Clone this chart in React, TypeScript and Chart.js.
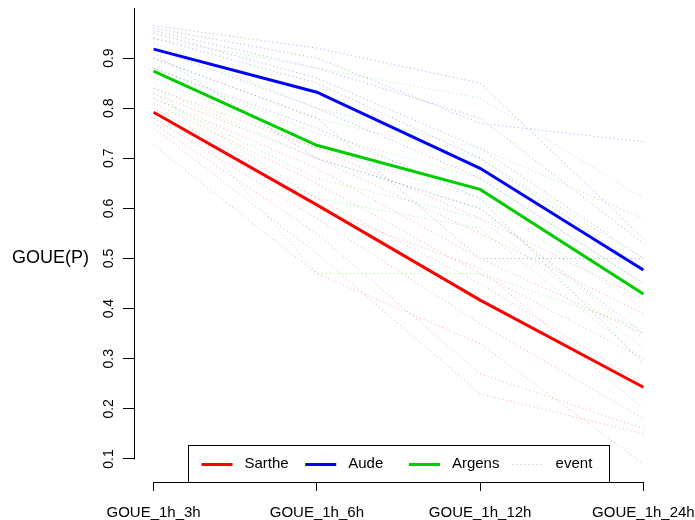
import React, { useEffect, useRef } from "react";
import { Chart, registerables } from "chart.js";

Chart.register(...registerables);

// ---------- data ----------
const categories = ["GOUE_1h_3h", "GOUE_1h_6h", "GOUE_1h_12h", "GOUE_1h_24h"];
const yTicks = [0.1, 0.2, 0.3, 0.4, 0.5, 0.6, 0.7, 0.8, 0.9];
const yLabel = "GOUE(P)";

const sarthe = [0.792, 0.607, 0.417, 0.243];
const aude = [0.918, 0.832, 0.68, 0.477];
const argens = [0.874, 0.726, 0.638, 0.429];

const audeEvents = [
  [0.965, 0.92, 0.85, 0.54],
  [0.96, 0.9, 0.77, 0.733],
  [0.955, 0.88, 0.78, 0.53],
  [0.95, 0.86, 0.72, 0.5],
  [0.94, 0.85, 0.7, 0.48],
  [0.92, 0.8, 0.66, 0.45],
  [0.9, 0.78, 0.5, 0.5],
  [0.88, 0.76, 0.62, 0.29],
  [0.91, 0.7, 0.6, 0.35],
];
const argensEvents = [
  [0.94, 0.88, 0.82, 0.62],
  [0.93, 0.8, 0.72, 0.58],
  [0.9, 0.78, 0.7, 0.5],
  [0.88, 0.75, 0.66, 0.45],
  [0.86, 0.72, 0.62, 0.4],
  [0.84, 0.7, 0.6, 0.34],
  [0.82, 0.66, 0.58, 0.32],
  [0.85, 0.47, 0.47, 0.36],
  [0.83, 0.62, 0.56, 0.3],
];
const sartheEvents = [
  [0.84, 0.72, 0.58, 0.42],
  [0.83, 0.7, 0.55, 0.39],
  [0.82, 0.68, 0.5, 0.35],
  [0.81, 0.65, 0.47, 0.3],
  [0.8, 0.62, 0.45, 0.25],
  [0.78, 0.58, 0.37, 0.18],
  [0.77, 0.55, 0.27, 0.16],
  [0.76, 0.51, 0.23, 0.15],
  [0.726, 0.47, 0.33, 0.09],
  [0.79, 0.6, 0.48, 0.2],
];

const legendLabels = ["Sarthe", "Aude", "Argens", "event"];

// ---------- styles ----------
const FONT = '"Liberation Sans", Arial, Helvetica, sans-serif';
const RED = "#FF0000";
const BLUE = "#0000FF";
const GREEN = "#00CD00";
const legendColors = [RED, BLUE, GREEN, "#c0c0c0"];

const toPts = (vals: number[]) => vals.map((v, i) => ({ x: i, y: v }));

const rStylePlugin = {
  id: "rStyle",
  afterDraw(chart: any) {
    const { ctx, chartArea, scales } = chart;
    const x = scales.x;
    const y = scales.y;
    ctx.save();
    ctx.strokeStyle = "#000";
    ctx.lineWidth = 1;
    ctx.setLineDash([]);
    // y axis line
    const ax = Math.round(chartArea.left) + 0.5;
    ctx.beginPath();
    ctx.moveTo(ax, chartArea.top);
    ctx.lineTo(ax, Math.round(y.getPixelForValue(yTicks[0])) + 0.5);
    ctx.stroke();
    // x axis line
    const ay = Math.round(chartArea.bottom) + 0.5;
    ctx.beginPath();
    ctx.moveTo(Math.round(x.getPixelForValue(0)), ay);
    ctx.lineTo(Math.round(x.getPixelForValue(categories.length - 1)) + 1, ay);
    ctx.stroke();

    // y axis title (horizontal, R style)
    ctx.fillStyle = "#000";
    ctx.font = "18px " + FONT;
    ctx.textAlign = "left";
    ctx.textBaseline = "middle";
    ctx.fillText(yLabel, 12, y.getPixelForValue(0.5));

    // legend
    const boxW = 421;
    const boxH = 37;
    const cx = (chartArea.left + chartArea.right) / 2;
    const bx = Math.round(cx - boxW / 2) + 0.5;
    const by = Math.round(chartArea.bottom - boxH) + 0.5;
    ctx.fillStyle = "#fff";
    ctx.fillRect(bx, by, boxW, boxH);
    ctx.strokeStyle = "#000";
    ctx.strokeRect(bx, by, boxW, boxH);
    const midY = by + boxH / 2;
    ctx.font = "15px " + FONT;
    ctx.textBaseline = "middle";
    legendLabels.forEach((lab, i) => {
      const sx = bx + 13 + i * 103.7;
      ctx.strokeStyle = legendColors[i];
      if (i < 3) {
        ctx.lineWidth = 3;
        ctx.setLineDash([]);
      } else {
        ctx.lineWidth = 1;
        ctx.setLineDash([1, 3]);
      }
      ctx.beginPath();
      ctx.moveTo(sx, Math.round(midY) + 0.5);
      ctx.lineTo(sx + 31, Math.round(midY) + 0.5);
      ctx.stroke();
      ctx.fillStyle = "#000";
      ctx.textAlign = "left";
      ctx.fillText(lab, sx + 43, midY);
    });
    ctx.restore();
  },
};

export default function App() {
  const canvasRef = useRef<HTMLCanvasElement | null>(null);

  useEffect(() => {
    document.body.style.margin = "0";
    const canvas = canvasRef.current;
    if (!canvas) return;

    const evDs = (rows: number[][], color: string) =>
      rows.map((r) => ({
        label: "event",
        data: toPts(r),
        borderColor: color,
        borderWidth: 1,
        borderDash: [1, 3],
        pointRadius: 0,
        fill: false,
        tension: 0,
        order: 2,
      }));

    const bold = (label: string, vals: number[], color: string) => ({
      label,
      data: toPts(vals),
      borderColor: color,
      borderWidth: 3,
      pointRadius: 0,
      fill: false,
      tension: 0,
      order: 0,
    });

    const chart = new Chart(canvas, {
      type: "line",
      data: {
        datasets: [
          bold("Sarthe", sarthe, RED),
          bold("Aude", aude, BLUE),
          bold("Argens", argens, GREEN),
          ...evDs(audeEvents, "rgba(0,0,255,0.35)"),
          ...evDs(argensEvents, "rgba(0,205,0,0.35)"),
          ...evDs(sartheEvents, "rgba(255,0,0,0.35)"),
        ] as any,
      },
      options: {
        responsive: false,
        animation: false,
        layout: { padding: { top: 8, right: 32, left: 0, bottom: 0 } },
        plugins: {
          legend: { display: false },
          tooltip: { enabled: false },
        },
        scales: {
          x: {
            type: "linear",
            min: -0.12,
            max: 3.12,
            afterBuildTicks: (s: any) => {
              s.ticks = categories.map((_, i) => ({ value: i }));
            },
            afterFit: (s: any) => {
              s.height = 38;
              s.paddingLeft = 0;
              s.paddingRight = 0;
            },
            ticks: {
              callback: (v: any) => categories[v] ?? "",
              font: { family: FONT, size: 15 },
              color: "#000",
              padding: 13,
              maxRotation: 0,
              minRotation: 0,
              autoSkip: false,
            },
            grid: {
              display: true,
              drawOnChartArea: false,
              drawTicks: true,
              tickLength: 9,
              color: "#000",
              lineWidth: 1,
            },
            border: { display: false },
          },
          y: {
            type: "linear",
            min: 0.054,
            max: 1.0,
            afterBuildTicks: (s: any) => {
              s.ticks = yTicks.map((v) => ({ value: v }));
            },
            afterFit: (s: any) => {
              s.width = 134;
              s.paddingTop = 0;
              s.paddingBottom = 0;
            },
            ticks: {
              callback: (v: any) => Number(v).toFixed(1),
              font: { family: FONT, size: 14 },
              color: "#000",
              padding: 4,
              minRotation: 90,
              maxRotation: 90,
              crossAlign: "center",
              autoSkip: false,
            },
            grid: {
              display: true,
              drawOnChartArea: false,
              drawTicks: true,
              tickLength: 11,
              color: "#000",
              lineWidth: 1,
            },
            border: { display: false },
          },
        },
      } as any,
      plugins: [rStylePlugin],
    });
    return () => chart.destroy();
  }, []);

  return (
    <div style={{ position: "absolute", left: 0, top: 0, width: 695, height: 520, background: "#fff" }}>
      <canvas ref={canvasRef} width={695} height={520} style={{ display: "block" }} />
    </div>
  );
}
